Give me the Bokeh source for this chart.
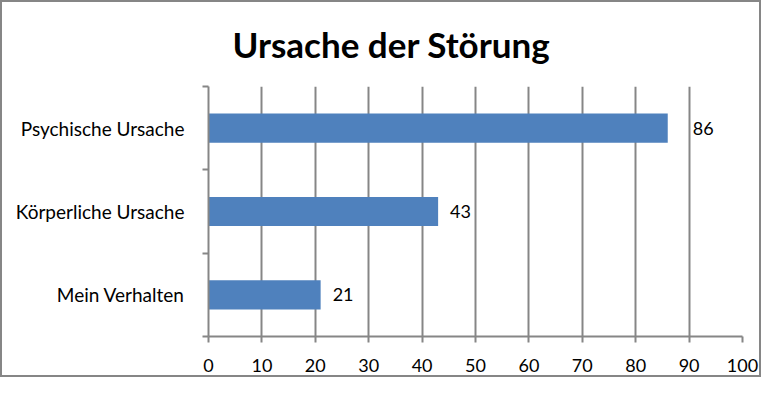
from bokeh.plotting import figure
from bokeh.models import Range1d, FixedTicker, ColumnDataSource, LinearAxis
from bokeh.core.properties import value
from bokeh.embed import file_html
from bokeh.resources import INLINE

# ---- data ----
title_text = "Ursache der Störung"
categories = ["Psychische Ursache", "Körperliche Ursache", "Mein Verhalten"]  # top to bottom
values = [86, 43, 21]
x_ticks = [0, 10, 20, 30, 40, 50, 60, 70, 80, 90, 100]
grid_ticks = [0, 10, 20, 30, 40, 50, 60, 70, 80, 90]

# ---- styling ----
FONT = "Lato"
BAR = "#4F81BD"
GRAY = "#868686"
label_nudge = [25, 12, 12]  # px gap between bar end and value label

n = len(categories)
ypos = [n - i - 0.5 for i in range(n)]

src = ColumnDataSource(dict(
    cat=categories, val=values, y=ypos,
    lbl=[str(v) for v in values], nudge=label_nudge,
))

p = figure(width=761, height=377, output_backend="svg", toolbar_location=None,
           x_range=Range1d(0, 100), y_range=Range1d(0, n),
           x_axis_location=None, y_axis_location=None,
           min_border_left=206, min_border_right=21,
           min_border_top=84, min_border_bottom=43,
           background_fill_color="white", border_fill_color="white",
           styles={"border": f"2px solid {GRAY}"})
p.outline_line_color = None

# title
p.title.text = title_text
p.title.align = "left"
p.title.vertical_align = "top"
p.title.offset = 24
p.title.standoff = 40
p.title.text_font = FONT
p.title.text_font_style = "bold"
p.title.text_font_size = "35px"
p.title.text_color = "black"

# bars
p.hbar(y="y", right="val", left=0, height=0.35, source=src,
       fill_color=BAR, line_color=None)

# value labels
p.text(x="val", y="y", text="lbl", x_offset="nudge", source=src,
       text_align="left", text_baseline="middle",
       text_font=value(FONT), text_font_size="18px", text_color="black")

# x axis
xaxis = LinearAxis(ticker=FixedTicker(ticks=x_ticks))
xaxis.axis_line_color = GRAY
xaxis.axis_line_width = 2
xaxis.major_tick_line_color = GRAY
xaxis.major_tick_line_width = 2
xaxis.major_tick_in = 0
xaxis.major_tick_out = 6
xaxis.minor_tick_line_color = None
xaxis.major_label_standoff = 16
xaxis.major_label_text_font = FONT
xaxis.major_label_text_font_size = "18px"
xaxis.major_label_text_color = "black"
p.add_layout(xaxis, "below")

# y axis (category labels centred, tick marks between categories)
bounds = [float(i) for i in range(n + 1)]
yaxis = LinearAxis(ticker=FixedTicker(ticks=ypos, minor_ticks=bounds))
yaxis.major_label_overrides = {y: c for y, c in zip(ypos, categories)}
yaxis.axis_line_color = GRAY
yaxis.axis_line_width = 2
yaxis.major_tick_line_color = None
yaxis.major_tick_in = 0
yaxis.major_tick_out = 5
yaxis.minor_tick_line_color = GRAY
yaxis.minor_tick_line_width = 2
yaxis.minor_tick_in = 0
yaxis.minor_tick_out = 6
yaxis.major_label_standoff = 18
yaxis.major_label_text_font = FONT
yaxis.major_label_text_font_size = "19px"
yaxis.major_label_text_color = "black"
p.add_layout(yaxis, "left")

# grid
p.xgrid.ticker = FixedTicker(ticks=grid_ticks)
p.xgrid.grid_line_color = GRAY
p.xgrid.grid_line_width = 2
p.ygrid.grid_line_color = None

open("out.html", "w").write(file_html(p, INLINE))
